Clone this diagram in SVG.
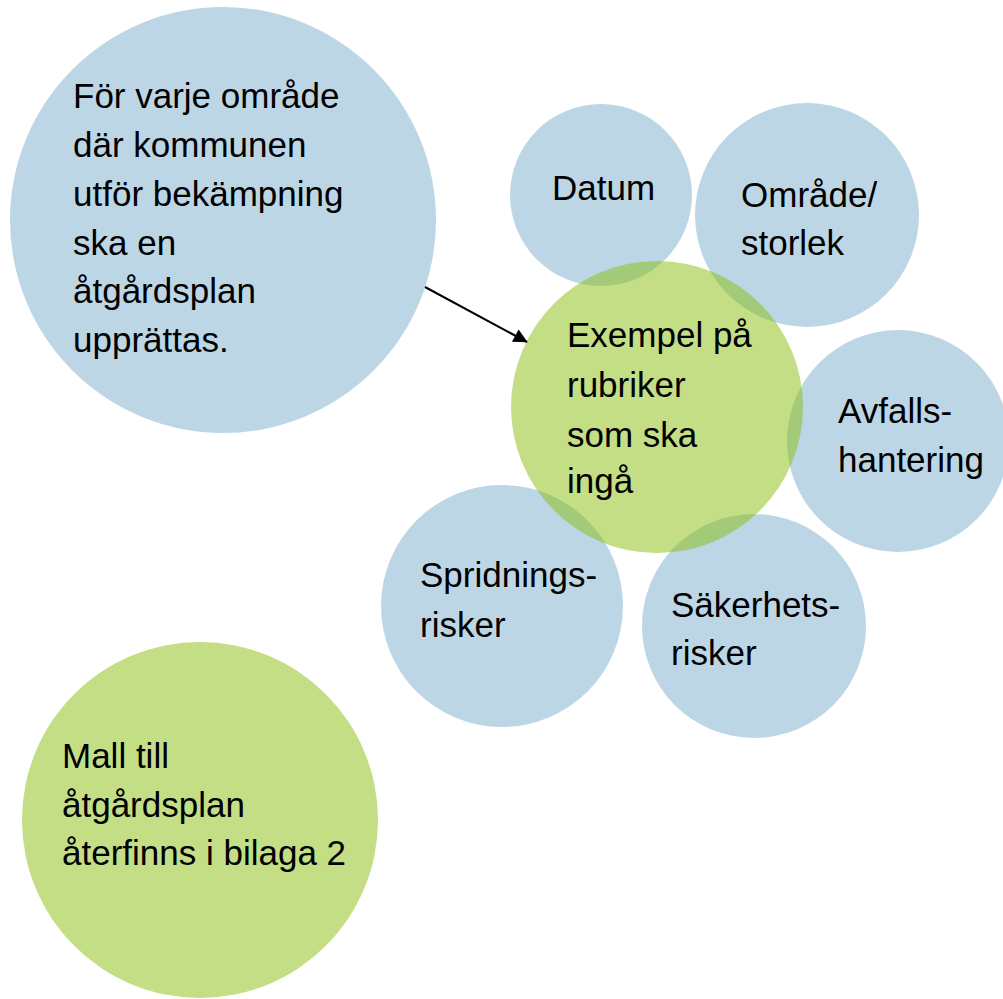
<svg xmlns="http://www.w3.org/2000/svg" width="1003" height="999" viewBox="0 0 1003 999">
<defs>
<style>
.blue{fill:#BDD6E6}
.green{fill:#87BD0B;fill-opacity:0.5}
.green-solid{fill:#C3DE85}
text{font-family:"Liberation Sans",Arial,sans-serif;font-size:35px;fill:#000}
.conn{stroke:#000;stroke-width:2;fill:none}
</style>
<marker id="arrow" viewBox="0 0 10 10" refX="9.5" refY="5" markerWidth="16" markerHeight="14" markerUnits="userSpaceOnUse" orient="auto">
<path d="M0,0 L10,5 L0,10 z" fill="#000"/>
</marker>
</defs>
<rect width="1003" height="999" fill="#fff"/>
<g id="node-main">
<circle class="blue" cx="223" cy="220" r="213"/>
<text x="73" y="108">För varje område</text>
<text x="73" y="157">där kommunen</text>
<text x="73" y="206">utför bekämpning</text>
<text x="73" y="255">ska en</text>
<text x="73" y="303">åtgårdsplan</text>
<text x="73" y="352">upprättas.</text>
</g>
<g id="node-datum">
<circle class="blue" cx="601" cy="195" r="91"/>
<text x="552" y="200">Datum</text>
</g>
<g id="node-omrade">
<circle class="blue" cx="807" cy="215" r="112"/>
<text x="741" y="207">Område/</text>
<text x="741" y="255">storlek</text>
</g>
<g id="node-avfall">
<circle class="blue" cx="898" cy="441" r="111"/>
<text x="838" y="423">Avfalls-</text>
<text x="838" y="472">hantering</text>
</g>
<g id="node-spridning">
<circle class="blue" cx="502" cy="606" r="121"/>
<text x="420" y="587">Spridnings-</text>
<text x="420" y="637">risker</text>
</g>
<g id="node-sakerhet">
<circle class="blue" cx="754" cy="626" r="112"/>
<text x="671" y="617">Säkerhets-</text>
<text x="671" y="665">risker</text>
</g>
<g id="node-exempel">
<circle class="green" cx="657" cy="407" r="146"/>
<text x="567" y="347">Exempel på</text>
<text x="567" y="397">rubriker</text>
<text x="567" y="447">som ska</text>
<text x="567" y="493">ingå</text>
</g>
<g id="node-mall">
<circle class="green-solid" cx="200" cy="820" r="178"/>
<text x="62" y="768">Mall till</text>
<text x="62" y="817">åtgårdsplan</text>
<text x="62" y="865">återfinns i bilaga 2</text>
</g>
<g id="connectors">
<line class="conn" x1="425" y1="287" x2="527" y2="342" marker-end="url(#arrow)"/>
</g>
</svg>
